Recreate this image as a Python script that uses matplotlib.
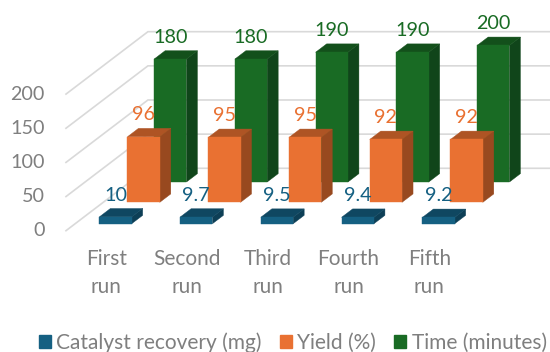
import matplotlib
matplotlib.use("Agg")
import matplotlib.pyplot as plt
from matplotlib.patches import Polygon, Patch

plt.rcParams['font.family'] = ['Lato', 'DejaVu Sans']

# Chart values
runs = ["First\nrun", "Second\nrun", "Third\nrun", "Fourth\nrun", "Fifth\nrun"]
catalyst = [10, 9.7, 9.5, 9.4, 9.2]
yields = [96, 95, 95, 92, 92]
time_min = [180, 180, 190, 190, 200]
value_ticks = [0, 50, 100, 150, 200]
series_names = ["Catalyst recovery (mg)", "Yield (%)", "Time (minutes)"]

# Colours for each series: front, top and side faces
front_cols = ["#156082", "#E97132", "#196B24"]
top_cols = ["#0F4761", "#AE5424", "#13501B"]
side_cols = ["#0D3F56", "#98491F", "#10451A"]

# Oblique projection: one unit of depth moves a point right and up
SHIFT_X = 1.015
SHIFT_Y = 91.4
BAR_W = 0.40
BAR_D = 0.134
front_depth = [0.112, 0.455, 0.78]


def proj(x, v, d):
    return (x + d * SHIFT_X, v + d * SHIFT_Y)


fig = plt.figure(figsize=(5.5, 3.52), dpi=100)
ax = fig.add_axes([0, 0, 1, 1])
ax.set_xlim(-1.317, 5.494)
ax.set_ylim(-177.6, 337.8)
ax.axis("off")

# Side wall and back wall gridlines
n = len(runs)
for v in value_ticks:
    pts = [proj(-0.5, v, 0), proj(-0.5, v, 1), proj(n - 0.5, v, 1)]
    ax.plot([p[0] for p in pts], [p[1] for p in pts], color="#D9D9D9", lw=1.2,
            solid_joinstyle="miter", zorder=1)
    ax.text(-0.5 - 21 / 80.75, v, str(v), ha="right", va="center",
            fontsize=14.2, color="#7F7F7F")

series = [catalyst, yields, time_min]

# Draw from the back row forward so nearer bars cover the ones behind
for s in [2, 1, 0]:
    d0 = front_depth[s]
    d1 = d0 + BAR_D
    z = 10 - s
    for i, val in enumerate(series[s]):
        x0 = i - BAR_W / 2
        x1 = i + BAR_W / 2
        top = [proj(x0, val, d0), proj(x1, val, d0), proj(x1, val, d1), proj(x0, val, d1)]
        side = [proj(x1, 0, d0), proj(x1, 0, d1), proj(x1, val, d1), proj(x1, val, d0)]
        front = [proj(x0, 0, d0), proj(x1, 0, d0), proj(x1, val, d0), proj(x0, val, d0)]
        ax.add_patch(Polygon(side, fc=side_cols[s], ec=side_cols[s], lw=0.3, zorder=z))
        ax.add_patch(Polygon(top, fc=top_cols[s], ec=top_cols[s], lw=0.3, zorder=z))
        ax.add_patch(Polygon(front, fc=front_cols[s], ec=front_cols[s], lw=0.3, zorder=z))
        lx, ly = proj(i, val + 32, d0)
        ax.text(lx, ly, str(val), ha="center", va="center", fontsize=14.2,
                color=front_cols[s], zorder=20)

# Category labels under the floor
for i, name in enumerate(runs):
    ax.text(i, -62, name, ha="center", va="center", fontsize=15,
            color="#7F7F7F", linespacing=1.5)

# Legend along the bottom
handles = [Patch(fc=c, ec=c) for c in front_cols]
ax.legend(handles, series_names, loc="lower left", bbox_to_anchor=(0.04, -0.05), ncol=3,
          frameon=False, fontsize=15, labelcolor="#7F7F7F", handlelength=0.6,
          handleheight=0.6, handletextpad=0.25, columnspacing=0.85, borderpad=0.3)

fig.savefig("out.png", dpi=100)
